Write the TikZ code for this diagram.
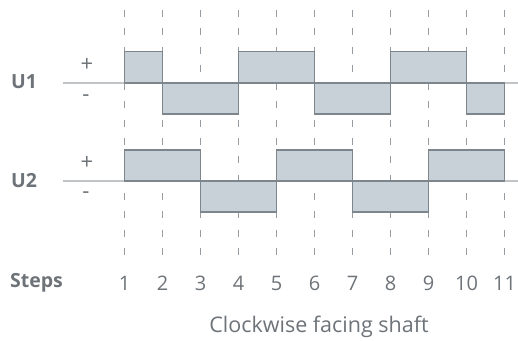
\documentclass[tikz,border=0pt]{standalone}
\usepackage{fontspec}
\setmainfont{Open Sans}
\definecolor{txt}{HTML}{6D7378}
\definecolor{wfill}{HTML}{C8D1D8}
\definecolor{wline}{HTML}{7D868C}
\definecolor{gridc}{HTML}{979CA0}
\definecolor{axisc}{HTML}{C2C5C8}
\begin{document}
\begin{tikzpicture}[x=1pt,y=1pt,
  gridline/.style={draw=gridc,line width=1.6pt,dash pattern=on 7pt off 11.3pt},
  axisline/.style={draw=axisc,line width=1.2pt},
  wave/.style={draw=wline,fill=wfill,line width=1.6pt},
  lbl/.style={text=txt,inner sep=0pt,font=\fontsize{20}{22}\selectfont},
  caplbl/.style={lbl,font=\fontsize{21.5}{24}\selectfont},
  boldlbl/.style={lbl,font=\fontsize{19.5}{22}\selectfont\bfseries},
  sign/.style={lbl,font=\fontsize{22}{24}\selectfont}]
\useasboundingbox (0,0) rectangle (518,340);
% dashed step lines and step numbers
\foreach \i in {1,...,11} {
  \pgfmathsetmacro\xx{124.5+38*(\i-1)}
  \draw[gridline] (\xx,330) -- (\xx,85);
  \node[lbl] (n\i) at (\xx,57) {\i};
}
% axes
\draw[axisline] (63,257) -- (518,257);
\draw[axisline] (63,159) -- (518,159);
% U1 waveform
\foreach \a/\b/\s in {1/2/1,2/4/-1,4/6/1,6/8/-1,8/10/1,10/11/-1} {
  \draw[wave] ({124.5+38*(\a-1)},257) rectangle ({124.5+38*(\b-1)},{257+31.3*\s});
}
% U2 waveform
\foreach \a/\b/\s in {1/3/1,3/5/-1,5/7/1,7/9/-1,9/11/1} {
  \draw[wave] ({124.5+38*(\a-1)},159) rectangle ({124.5+38*(\b-1)},{159+31*\s});
}
% labels
\node[boldlbl] (u1) at (24,258) {U1};
\node[sign] (u1p) at (87,275) {+};
\node[sign] (u1m) at (86,242) {-};
\node[boldlbl] (u2) at (24,159) {U2};
\node[sign] (u2p) at (87,177) {+};
\node[sign] (u2m) at (86,145) {-};
\node[boldlbl] (steps) at (36.5,57) {Steps};
\node[caplbl] (cap) at (319,13) {Clockwise facing shaft};
\end{tikzpicture}
\end{document}
